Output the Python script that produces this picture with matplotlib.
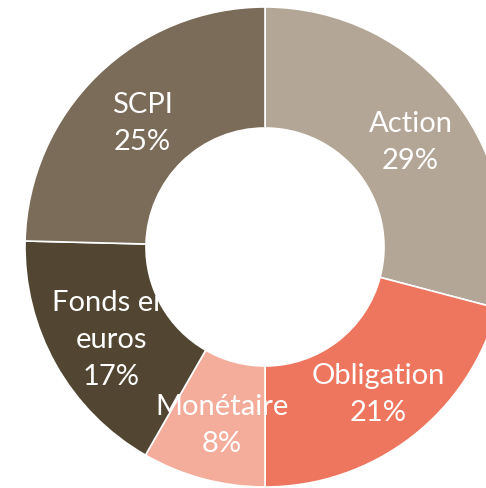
import numpy as np
import matplotlib
matplotlib.use("Agg")
import matplotlib.pyplot as plt

categories = ["Action", "Obligation", "Monétaire", "Fonds en\neuros", "SCPI"]
values = [29.1, 20.9, 8.3, 17.1, 24.6]
colors = ["#B3A696", "#EE765F", "#F4AC9B", "#524633", "#7B6B59"]

plt.rcParams["font.family"] = ["Lato", "DejaVu Sans"]

fig = plt.figure(figsize=(4.86, 4.89), dpi=100)
ax = fig.add_axes([0, 0, 1, 1])

cx, cy, r = 265, 241, 240
wedges, _ = ax.pie(values, colors=colors, startangle=90, counterclock=False,
                   center=(cx, cy), radius=r, frame=True,
                   wedgeprops=dict(width=121, edgecolor="white", linewidth=1.2))
ax.set_xlim(0, 486)
ax.set_ylim(0, 489)
ax.axis("off")

# labels sit in the middle of the ring, white text
for w, name, v in zip(wedges, categories, values):
    mid = np.deg2rad((w.theta1 + w.theta2) / 2)
    x = cx + 180 * np.cos(mid)
    y = cy + 180 * np.sin(mid)
    ax.text(x + 3, y - 4, f"{name}\n{v:.0f}%", ha="center", va="center",
            color="white", fontsize=21, linespacing=1.52)

fig.savefig("out.png", dpi=100)
